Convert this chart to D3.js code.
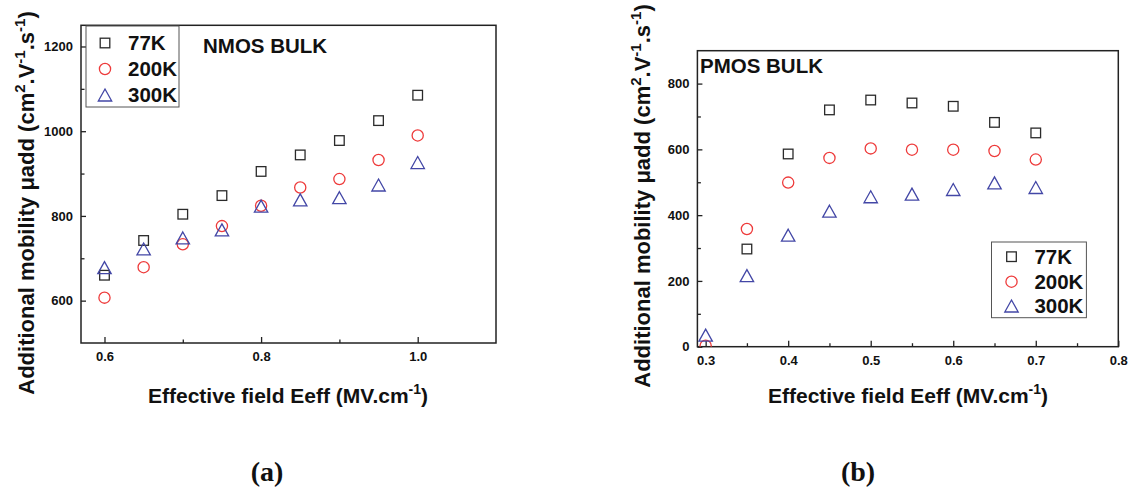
<!DOCTYPE html>
<html><head><meta charset="utf-8">
<script src="https://cdn.jsdelivr.net/npm/d3@7"></script>
<style>
body{margin:0;background:#fff;}
svg{display:block;font-family:"Liberation Sans",Arial,sans-serif;}
</style></head>
<body><svg id="c" width="1130" height="492"></svg>
<script>
const seriesNames = ["77K","200K","300K"];
const nmosX = [0.6,0.65,0.7,0.75,0.8,0.85,0.9,0.95,1.0];
const nmos77 = [660,742,804,848,905,944,978,1025,1085];
const nmos200 = [607,679,733,776,824,867,887,932,990];
const nmos300 = [678,722,748,767,823,838,843,873,926];
const pmosX = [0.3,0.35,0.4,0.45,0.5,0.55,0.6,0.65,0.7];
const pmos77 = [null,297,586,720,750,741,731,682,650];
const pmos200 = [3,358,499,574,603,599,599,595,569];
const pmos300 = [35,216,339,412,456,464,478,498,484];
const nmosXTicks = [0.6,0.8,1.0];
const nmosYTicks = [600,800,1000,1200];
const pmosXTicks = [0.3,0.4,0.5,0.6,0.7,0.8];
const pmosYTicks = [0,200,400,600,800];

const svg = d3.select("#c");
const colors = ["#2a2a2a","#ee3b3b","#4347a6"];
const shapes = ["square","circle","triangle"];

function marker(g, shape, x, y, color){
  if(shape==="square"){
    g.append("rect").attr("x",x-4.8).attr("y",y-4.8).attr("width",9.6).attr("height",9.6)
      .attr("fill","none").attr("stroke",color).attr("stroke-width",1.3);
  } else if(shape==="circle"){
    g.append("circle").attr("cx",x).attr("cy",y).attr("r",5.6)
      .attr("fill","none").attr("stroke",color).attr("stroke-width",1.3);
  } else {
    g.append("path").attr("d",`M${x},${y-6} L${x+6.7},${y+6} L${x-6.7},${y+6} Z`)
      .attr("fill","none").attr("stroke",color).attr("stroke-width",1.3);
  }
}

function panel(o){
  const x = d3.scaleLinear().domain(o.xd).range([o.l,o.r]);
  const y = d3.scaleLinear().domain(o.yd).range([o.b,o.t]);
  const g = svg.append("g");
  const xAx = d3.axisBottom(x).tickValues(o.xt).tickSize(-6).tickPadding(9).tickFormat(d3.format(".1f"));
  const xMinor = d3.axisBottom(x).tickValues(o.xm).tickSize(-3.5).tickFormat("");
  const yAx = d3.axisLeft(y).tickValues(o.yt).tickSize(-5).tickPadding(8).tickFormat(d3.format("d"));
  const yMinor = d3.axisLeft(y).tickValues(o.ym).tickSize(-3.5).tickFormat("");
  [[xAx,"x"],[xMinor,"x"],[yAx,"y"],[yMinor,"y"]].forEach(([ax,t])=>{
    const a = g.append("g").attr("transform", t==="x"?`translate(0,${o.b})`:`translate(${o.l},0)`).call(ax);
    a.select(".domain").remove();
    a.selectAll("line").attr("stroke","#222").attr("stroke-width",1.3);
    a.selectAll("text").attr("font-size",13).attr("font-weight","bold").attr("fill","#111")
      .attr("font-family","'Liberation Sans',Arial,sans-serif");
  });
  g.append("rect").attr("x",o.l).attr("y",o.t).attr("width",o.r-o.l).attr("height",o.b-o.t)
    .attr("fill","none").attr("stroke","#222").attr("stroke-width",1.5);
  const clipId = "clip"+o.id;
  svg.append("clipPath").attr("id",clipId).append("rect")
    .attr("x",o.l).attr("y",o.t).attr("width",o.r-o.l).attr("height",o.b-o.t);
  const dg = g.append("g").attr("clip-path",`url(#${clipId})`);
  o.series.forEach((s,i)=>{
    o.xs.forEach((xv,j)=>{
      if(s[j]==null) return;
      marker(dg, shapes[i], x(xv), y(s[j]), colors[i]);
    });
  });
  const L = o.leg;
  g.append("rect").attr("x",L.x0).attr("y",L.y0).attr("width",L.x1-L.x0).attr("height",L.y1-L.y0)
    .attr("fill","#fff").attr("stroke","#555").attr("stroke-width",1);
  seriesNames.forEach((n,i)=>{
    const yy = L.rows[i];
    marker(g, shapes[i], L.mx, yy, colors[i]);
    g.append("text").attr("x",L.tx).attr("y",yy+7).attr("font-size",20.5).attr("font-weight","bold")
      .attr("fill","#111").text(n);
  });
  g.append("text").attr("x",o.title.x).attr("y",o.title.y).attr("font-size",20.5).attr("font-weight","bold")
    .attr("fill","#111").text(o.title.text);
  const xl = g.append("text").attr("x",o.xl.x).attr("y",o.xl.y).attr("text-anchor","middle")
    .attr("font-size",21).attr("font-weight","bold").attr("fill","#111");
  xl.append("tspan").text("Effective field Eeff (MV.cm");
  xl.append("tspan").attr("font-size",14).attr("dy",-9).text("-1");
  xl.append("tspan").attr("dy",9).text(")");
  const yl = g.append("text").attr("transform",`translate(${o.yl.x},${o.yl.y}) rotate(-90)`)
    .attr("text-anchor","middle").attr("font-size",22).attr("font-weight","bold").attr("fill","#111");
  yl.append("tspan").text("Additional mobility μadd (cm");
  yl.append("tspan").attr("font-size",15).attr("dy",-9).text("2");
  yl.append("tspan").attr("dy",9).text(".V");
  yl.append("tspan").attr("font-size",15).attr("dy",-9).text("-1");
  yl.append("tspan").attr("dy",9).text(".s");
  yl.append("tspan").attr("font-size",15).attr("dy",-9).text("-1");
  yl.append("tspan").attr("dy",9).text(")");
  g.append("text").attr("x",o.pl.x).attr("y",o.pl.y).attr("text-anchor","middle")
    .attr("font-family","'Liberation Serif','Times New Roman',serif").attr("font-size",28)
    .attr("font-weight","bold").attr("fill","#111").text(o.pl.text);
}

panel({
  id:"a", l:81, r:496, t:25.3, b:343,
  xd:[0.57,1.1], yd:[500,1250],
  xt:nmosXTicks, xm:[0.7,0.9], yt:nmosYTicks, ym:[700,900,1100],
  xs:nmosX, series:[nmos77,nmos200,nmos300],
  leg:{x0:86,x1:179,y0:26,y1:107,mx:105,tx:128,rows:[43,69,95]},
  title:{x:203,y:53,text:"NMOS BULK"},
  xl:{x:288,y:403},
  yl:{x:34,y:203},
  pl:{x:267,y:481,text:"(a)"}
});
panel({
  id:"b", l:697.4, r:1118.3, t:50.7, b:346.7,
  xd:[0.29,0.8], yd:[0,900],
  xt:pmosXTicks, xm:[0.35,0.45,0.55,0.65,0.75], yt:pmosYTicks, ym:[100,300,500,700],
  xs:pmosX, series:[pmos77,pmos200,pmos300],
  leg:{x0:991.5,x1:1086.4,y0:242,y1:317.7,mx:1011.5,tx:1034.4,rows:[256.7,281.7,306]},
  title:{x:700,y:73,text:"PMOS BULK"},
  xl:{x:908,y:403},
  yl:{x:650,y:196},
  pl:{x:858,y:481,text:"(b)"}
});
</script></body></html>
